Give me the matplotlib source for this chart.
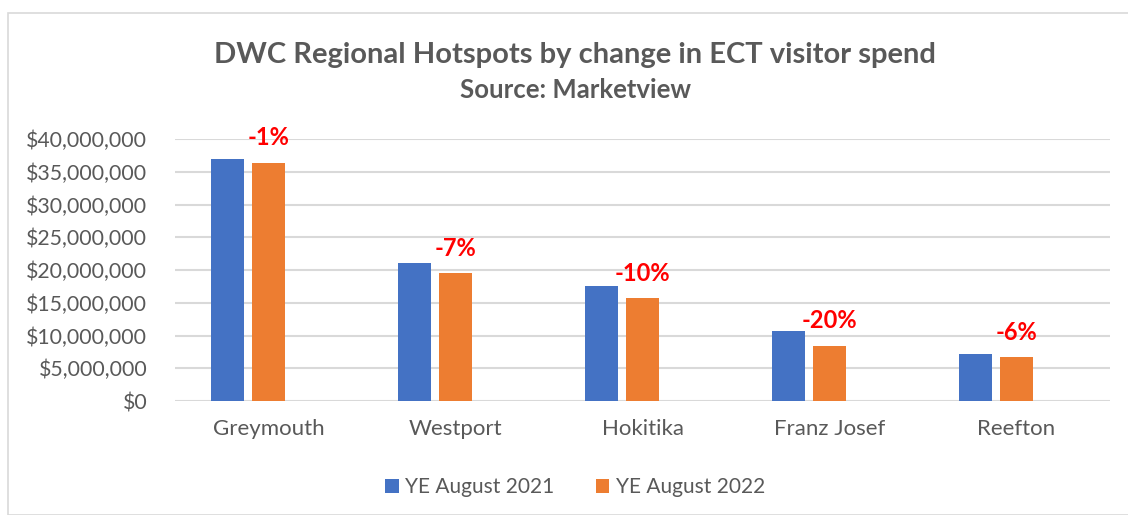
import matplotlib
matplotlib.use('Agg')
import matplotlib.pyplot as plt
from matplotlib.patches import Rectangle
from matplotlib.ticker import FuncFormatter
import numpy as np

# Data
regions = ["Greymouth", "Westport", "Hokitika", "Franz Josef", "Reefton"]
spend_2021 = [36.9e6, 21.0e6, 17.6e6, 10.7e6, 7.1e6]
spend_2022 = [36.4e6, 19.5e6, 15.7e6, 8.45e6, 6.67e6]
pct_change = [-1, -7, -10, -20, -6]
series_names = ["YE August 2021", "YE August 2022"]

blue = '#4472C4'
orange = '#ED7D31'
grey_text = '#595959'
font = 'Lato'

fig = plt.figure(figsize=(11.28, 5.15), dpi=100)
fig.patches.append(Rectangle((8 / 1128, 0), 1.2, 1 - 13 / 515, transform=fig.transFigure,
                             fill=False, edgecolor='#d9d9d9', linewidth=1.2))

ax = fig.add_axes([175 / 1128, 1 - 401 / 515, 935 / 1128, 262 / 515])

x = np.arange(len(regions))
bw = 0.176
ax.bar(x - 0.219, spend_2021, bw, color=blue, label=series_names[0], zorder=3)
ax.bar(x, spend_2022, bw, color=orange, label=series_names[1], zorder=3)

# percentage change labels sit above the 2022 bar
for xi, val, pct in zip(x, spend_2022, pct_change):
    ax.annotate(f"{pct}%", (xi, val), xytext=(0, 18), textcoords='offset points',
                ha='center', va='center', color='#FF0000', fontsize=17,
                fontweight='bold', family=font)

ax.set_xlim(-0.5, len(regions) - 0.5)
ax.set_ylim(0, 40e6)
ax.set_yticks(np.arange(0, 40e6 + 1, 5e6))
ax.yaxis.set_major_formatter(FuncFormatter(lambda v, p: f"${v:,.0f}"))
ax.set_xticks(x)
ax.set_xticklabels(regions)
ax.grid(True, axis='y', color='#d9d9d9', linewidth=1.5, zorder=0)
for s in ax.spines.values():
    s.set_visible(False)
ax.tick_params(axis='both', length=0, labelcolor=grey_text)
ax.tick_params(axis='y', pad=20, labelsize=15.3)
ax.tick_params(axis='x', pad=13, labelsize=16)
for lab in ax.get_xticklabels() + ax.get_yticklabels():
    lab.set_family(font)

fig.text(575 / 1128, 1 - 55 / 515, "DWC Regional Hotspots by change in ECT visitor spend",
         ha='center', va='center', fontsize=21, fontweight='bold', color=grey_text, family=font)
fig.text(575 / 1128, 1 - 90 / 515, "Source: Marketview",
         ha='center', va='center', fontsize=18.5, fontweight='bold', color=grey_text, family=font)

leg = fig.legend(loc='center', bbox_to_anchor=(575 / 1128, 1 - 487 / 515), ncol=2,
                 frameon=False, handlelength=0.65, handleheight=0.65, handletextpad=0.3,
                 columnspacing=2.0, prop={'family': font, 'size': 15})
for t in leg.get_texts():
    t.set_color(grey_text)

fig.savefig('out.png', dpi=100)
